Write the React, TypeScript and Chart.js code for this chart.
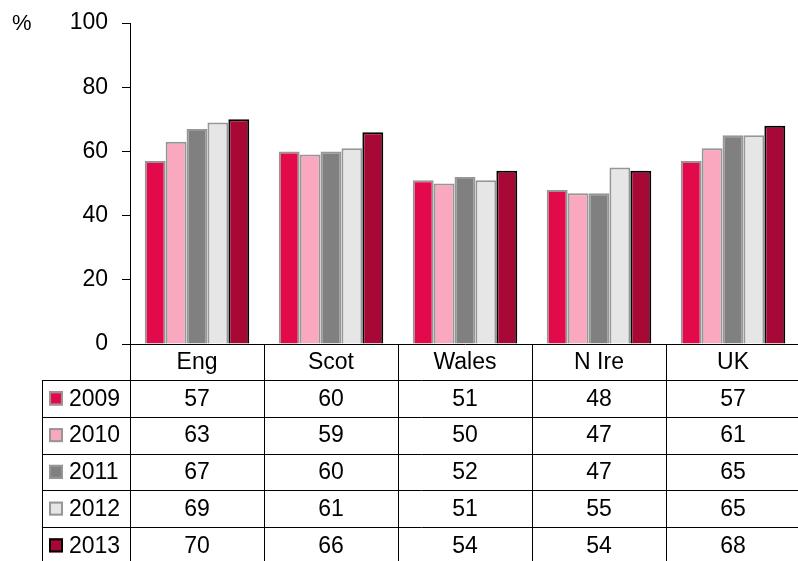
import React, { useEffect, useRef } from "react";
import { Chart, registerables } from "chart.js";

Chart.register(...registerables);

const categories = ["Eng", "Scot", "Wales", "N Ire", "UK"];
const seriesLabels = ["2009", "2010", "2011", "2012", "2013"];
const values2009 = [57, 60, 51, 48, 57];
const values2010 = [63, 59, 50, 47, 61];
const values2011 = [67, 60, 52, 47, 65];
const values2012 = [69, 61, 51, 55, 65];
const values2013 = [70, 66, 54, 54, 68];
const yTicks = [0, 20, 40, 60, 80, 100];

const seriesValues = [values2009, values2010, values2011, values2012, values2013];
const fills = ["#E20A4A", "#F9A8C0", "#808080", "#E6E6E6", "#A80836"];
const borders = ["#969696", "#969696", "#969696", "#969696", "#000000"];

const FONT = '"Liberation Sans", Arial, sans-serif';
const FS = 23;

const tablePlugin = {
  id: "dataTable",
  afterDraw(chart: any) {
    const { ctx, chartArea, scales } = chart;
    const x = scales.x;
    const left = chartArea.left;
    const right = chartArea.right;
    const bottom = chartArea.bottom;
    const n = categories.length;
    const cw = (right - left) / n;
    const headerH = 36;
    const rowH = 36.75;
    const tableLeft = 42;
    const headerBottom = bottom + headerH;
    const tableBottom = headerBottom + rowH * seriesLabels.length;

    ctx.save();
    ctx.strokeStyle = "#000";
    ctx.lineWidth = 1;
    const hline = (x1: number, x2: number, y: number) => {
      const yy = Math.round(y) + 0.5;
      ctx.beginPath();
      ctx.moveTo(x1, yy);
      ctx.lineTo(x2, yy);
      ctx.stroke();
    };
    const vline = (xx0: number, y1: number, y2: number) => {
      const xx = Math.round(xx0) + 0.5;
      ctx.beginPath();
      ctx.moveTo(xx, y1);
      ctx.lineTo(xx, y2);
      ctx.stroke();
    };
    for (let r = 0; r < seriesLabels.length; r++) {
      hline(tableLeft, right + 1, headerBottom + r * rowH);
    }
    vline(tableLeft, Math.round(headerBottom), tableBottom);
    for (let i = 0; i <= n; i++) {
      vline(left + i * cw, bottom, tableBottom);
    }

    ctx.fillStyle = "#000";
    ctx.font = `${FS}px ${FONT}`;
    ctx.textAlign = "center";
    ctx.textBaseline = "middle";
    for (let i = 0; i < n; i++) {
      const cx = x.getPixelForValue(i);
      ctx.fillText(categories[i], cx, bottom + headerH / 2 + 1);
      for (let r = 0; r < seriesLabels.length; r++) {
        ctx.fillText(String(seriesValues[r][i]), cx, headerBottom + r * rowH + rowH / 2 + 1);
      }
    }
    ctx.textAlign = "left";
    for (let r = 0; r < seriesLabels.length; r++) {
      const cy = headerBottom + r * rowH + rowH / 2;
      ctx.fillStyle = fills[r];
      ctx.fillRect(49, cy - 7, 14, 14);
      ctx.strokeStyle = borders[r];
      ctx.lineWidth = 2;
      ctx.strokeRect(50, cy - 6, 12, 12);
      ctx.fillStyle = "#000";
      ctx.fillText(seriesLabels[r], 69, cy + 1);
    }

    ctx.textBaseline = "alphabetic";
    ctx.font = `${FS - 1}px ${FONT}`;
    ctx.fillText("%", 12, 30);
    ctx.restore();
  },
};

export default function App() {
  const ref = useRef<HTMLCanvasElement | null>(null);
  useEffect(() => {
    if (!ref.current) return;
    const chart = new Chart(ref.current, {
      type: "bar",
      data: {
        labels: categories,
        datasets: seriesLabels.map((l, i) => ({
          label: l,
          data: seriesValues[i],
          backgroundColor: fills[i],
          borderColor: borders[i],
          borderWidth: 2,
          categoryPercentage: 0.78,
          barPercentage: 1.0,
        })),
      },
      options: {
        responsive: false,
        animation: false,
        devicePixelRatio: 1,
        layout: { padding: { left: 0, top: 23, right: 6, bottom: 217 } },
        plugins: { legend: { display: false }, tooltip: { enabled: false } },
        scales: {
          x: {
            ticks: { display: false },
            grid: { display: false },
            border: { color: "#000", width: 1 },
            afterFit: (s: any) => {
              s.height = 0;
              s.paddingLeft = 0;
              s.paddingRight = 0;
            },
          },
          y: {
            min: 0,
            max: 100,
            afterBuildTicks: (s: any) => {
              s.ticks = yTicks.map((v) => ({ value: v }));
            },
            ticks: {
              color: "#000",
              font: { family: FONT, size: FS },
              padding: 14,
            },
            grid: { drawOnChartArea: false, tickLength: 8, color: "#000" },
            border: { color: "#000", width: 1 },
            afterFit: (s: any) => {
              s.width = 130;
              s.paddingTop = 0;
              s.paddingBottom = 0;
            },
          },
        },
      },
      plugins: [tablePlugin],
    } as any);
    return () => chart.destroy();
  }, []);
  return (
    <div
      style={{
        position: "fixed",
        left: 0,
        top: 0,
        width: 798,
        height: 561,
        overflow: "hidden",
        background: "#fff",
      }}
    >
      <canvas ref={ref} width={806} height={561} style={{ display: "block" }} />
    </div>
  );
}
